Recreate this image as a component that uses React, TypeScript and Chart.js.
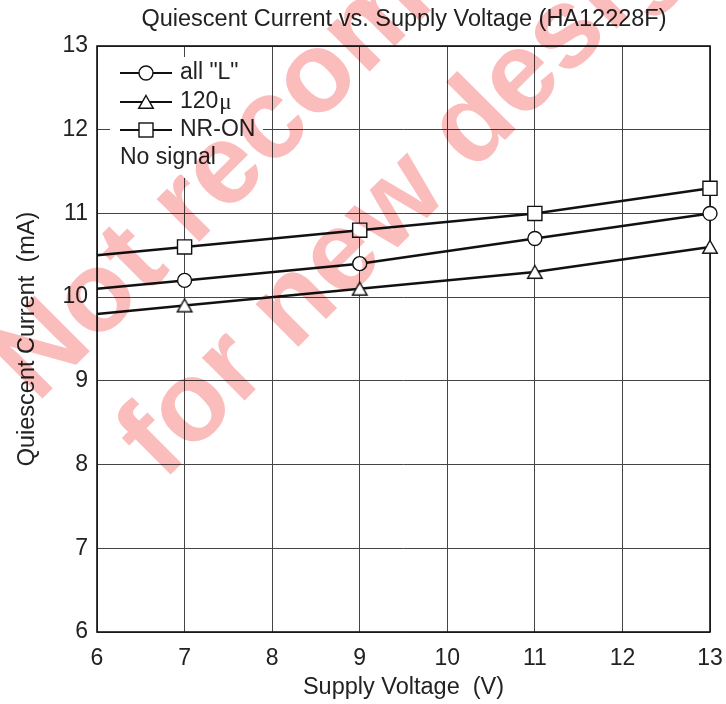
import React, { useEffect, useRef } from "react";
import { Chart, registerables } from "chart.js";

Chart.register(...registerables);

const titleText = "Quiescent Current vs. Supply Voltage (HA12228F)";
const xTitle = "Supply Voltage  (V)";
const yTitle = "Quiescent Current  (mA)";
const voltages = [6, 7, 9, 11, 13];
const allL = [10.1, 10.2, 10.4, 10.7, 11.0];
const mu120 = [9.8, 9.9, 10.1, 10.3, 10.6];
const nrOn = [10.5, 10.6, 10.8, 11.0, 11.3];
const markerRadii = [0, 7, 7, 7, 7];
const seriesLabels = ['all "L"', "120", "NR-ON"];
const legendNote = "No signal";
const watermark1 = "Not recommended";
const watermark2 = "for new design";

const FONT = "'Liberation Sans', Arial, sans-serif";

function makeTriangle(): HTMLCanvasElement {
  const c = document.createElement("canvas");
  c.width = 18;
  c.height = 16;
  const g = c.getContext("2d")!;
  g.fillStyle = "#fff";
  g.strokeStyle = "#111";
  g.lineWidth = 1.4;
  g.beginPath();
  g.moveTo(9, 1.5);
  g.lineTo(16.3, 14.3);
  g.lineTo(1.7, 14.3);
  g.closePath();
  g.fill();
  g.stroke();
  return c;
}

export default function App() {
  const ref = useRef<HTMLCanvasElement>(null);
  useEffect(() => {
    document.body.style.margin = "0";
    const tri = makeTriangle();
    const pts = (ys: number[]) => voltages.map((x, i) => ({ x, y: ys[i] }));

    const decor = {
      id: "decor",
      beforeDraw(chart: any) {
        const ctx = chart.ctx;
        ctx.save();
        ctx.fillStyle = "#fff";
        ctx.fillRect(0, 0, chart.width, chart.height);
        ctx.restore();
      },
      beforeDatasetsDraw(chart: any) {
        const ctx = chart.ctx;
        const a = chart.chartArea;
        ctx.save();
        ctx.strokeStyle = "#111";
        ctx.lineWidth = 1.6;
        ctx.strokeRect(a.left, a.top, a.right - a.left, a.bottom - a.top);
        ctx.fillStyle = "#fff";
        ctx.fillRect(a.left + 13, a.top + 11, 153, 121);
        const rows = [73, 102, 130];
        const x0 = 120, x1 = 172, xm = 146;
        ctx.font = `23px ${FONT}`;
        ctx.textBaseline = "middle";
        ctx.textAlign = "left";
        rows.forEach((y, i) => {
          ctx.strokeStyle = "#111";
          ctx.lineWidth = 2.2;
          ctx.beginPath();
          ctx.moveTo(x0, y);
          ctx.lineTo(x1, y);
          ctx.stroke();
          ctx.lineWidth = 1.4;
          ctx.fillStyle = "#fff";
          if (i === 0) {
            ctx.beginPath();
            ctx.arc(xm, y, 7, 0, Math.PI * 2);
            ctx.fill();
            ctx.stroke();
          } else if (i === 1) {
            ctx.drawImage(tri, xm - 9, y - 8);
          } else {
            ctx.fillRect(xm - 7, y - 7, 14, 14);
            ctx.strokeRect(xm - 7, y - 7, 14, 14);
          }
          ctx.fillStyle = "#222";
          ctx.font = `23px ${FONT}`;
          ctx.fillText(seriesLabels[i], 180, y);
          if (i === 1) {
            const w = ctx.measureText(seriesLabels[i]).width;
            ctx.font = `23px 'Liberation Serif', serif`;
            ctx.fillText("\u03bc", 180 + w + 1, y + 1);
          }
        });
        ctx.font = `23px ${FONT}`;
        ctx.fillStyle = "#222";
        ctx.fillText(legendNote, 120, 158);
        ctx.restore();
      },
      afterDraw(chart: any) {
        const ctx = chart.ctx;
        const a = chart.chartArea;
        ctx.save();
        ctx.fillStyle = "#222";
        ctx.font = `23.5px ${FONT}`;
        ctx.textAlign = "center";
        ctx.textBaseline = "middle";
        ctx.fillText(titleText, 404, 20);
        ctx.fillText(xTitle, (a.left + a.right) / 2, 688);
        ctx.translate(28, (a.top + a.bottom) / 2);
        ctx.rotate(-Math.PI / 2);
        ctx.fillText(yTitle, 0, 0);
        ctx.restore();

        // watermark
        ctx.save();
        ctx.globalCompositeOperation = "multiply";
        ctx.fillStyle = "rgb(251,188,188)";
        ctx.font = `bold 114px ${FONT}`;
        ctx.textAlign = "left";
        ctx.textBaseline = "alphabetic";
        ctx.save();
        ctx.translate(37, 404);
        ctx.rotate(-Math.PI / 4);
        ctx.fillText(watermark1, 0, 0);
        ctx.restore();
        ctx.save();
        ctx.translate(163, 482);
        ctx.rotate(-Math.PI / 4);
        ctx.fillText(watermark2, 0, 0);
        ctx.restore();
        ctx.restore();
      },
    };

    const ds = (ys: number[], style: any, r: number[]) => ({
      data: pts(ys),
      borderColor: "#111",
      borderWidth: 2.5,
      pointStyle: style,
      pointRadius: r,
      pointBackgroundColor: "#fff",
      pointBorderColor: "#111",
      pointBorderWidth: 1.4,
      tension: 0,
      clip: false as any,
    });

    const chart = new Chart(ref.current!, {
      type: "line",
      data: {
        datasets: [
          ds(nrOn, "rect", markerRadii.map((r) => (r ? 10 : 0))),
          ds(allL, "circle", markerRadii),
          ds(mu120, tri, markerRadii),
        ],
      },
      options: {
        animation: false,
        responsive: false,
        layout: { padding: { top: 46, right: 16, left: 0, bottom: 0 } },
        plugins: { legend: { display: false }, tooltip: { enabled: false }, title: { display: false } },
        scales: {
          x: {
            type: "linear",
            min: 6,
            max: 13,
            ticks: { stepSize: 1, color: "#222", font: { family: FONT, size: 23 }, padding: 13 },
            grid: { color: "#444", lineWidth: 1, drawTicks: false },
            border: { display: false },
            afterFit: (s: any) => {
              s.height = 72;
              s.paddingLeft = 0;
              s.paddingRight = 0;
            },
          },
          y: {
            min: 6,
            max: 13,
            ticks: { stepSize: 1, color: "#222", font: { family: FONT, size: 23 }, padding: 9 },
            grid: { color: "#444", lineWidth: 1, drawTicks: false },
            border: { display: false },
            afterFit: (s: any) => {
              s.width = 97;
              s.paddingTop = 0;
              s.paddingBottom = 0;
            },
          },
        },
      },
      plugins: [decor],
    });
    return () => chart.destroy();
  }, []);
  return (
    <div style={{ position: "absolute", left: 0, top: 0, width: 726, height: 704 }}>
      <canvas ref={ref} width={726} height={704} style={{ display: "block", width: 726, height: 704 }} />
    </div>
  );
}
